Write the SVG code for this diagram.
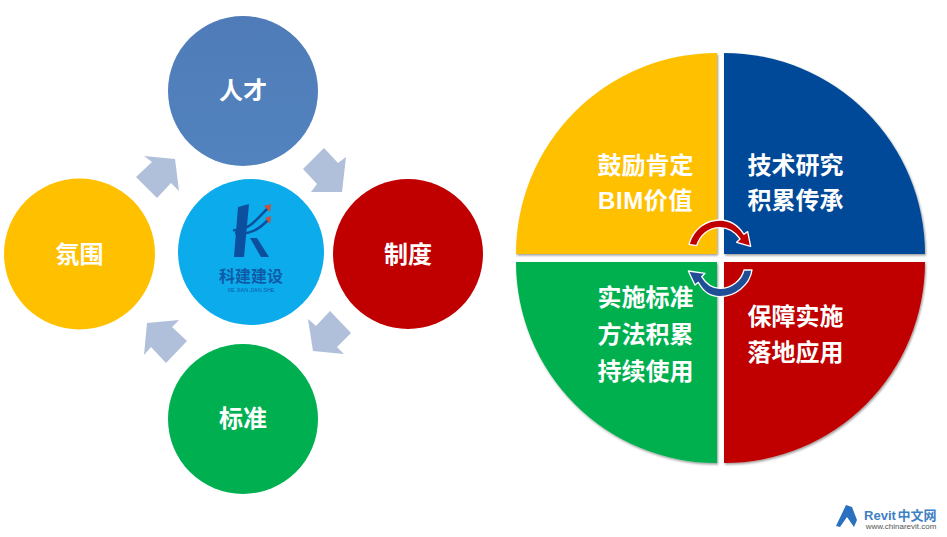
<svg xmlns="http://www.w3.org/2000/svg" width="947" height="537" viewBox="0 0 947 537">
<style>
text{font-family:"Liberation Sans","Noto Sans CJK SC",sans-serif;text-anchor:middle;dominant-baseline:central}
.t{fill:#fff;font-size:24px;font-weight:700}
.a{fill:#b0bfda}
.q{filter:url(#sh)}
</style>
<defs>
<filter id="sh" x="-5%" y="-5%" width="110%" height="110%"><feDropShadow dx="1" dy="1.5" stdDeviation="1.2" flood-color="#000" flood-opacity=".4"/></filter>
<linearGradient id="bl" x1="0" y1="0" x2="0" y2="1"><stop offset="0" stop-color="#4f7cb8"/><stop offset="1" stop-color="#5283be"/></linearGradient>
</defs>
<rect width="947" height="537" fill="#fff"/>
<g id="connectors">
<polygon class="a" points="144,156 175,159 179,191 171,183 157,198 136,177 152,162"/>
<polygon class="a" points="324,148 338,163 346,157 342,192 311,192 317,184 303,169"/>
<polygon class="a" points="330,311 351,333 337,347 344,354 313,351 308,319 316,326"/>
<polygon class="a" points="179,320 172,327 187,341 166,363 151,347 144,355 147,323"/>
</g>
<g id="node-rencai"><circle cx="243" cy="91" r="75" fill="url(#bl)"/><text class="t" x="243" y="90">人才</text></g>
<g id="node-fenwei"><circle cx="79.500" cy="254" r="75.500" fill="#ffc000"/><text class="t" x="79.500" y="254">氛围</text></g>
<g id="node-zhidu"><circle cx="408" cy="254" r="75" fill="#c00000"/><text class="t" x="408" y="254">制度</text></g>
<g id="node-biaozhun"><circle cx="243" cy="419" r="75" fill="#00b050"/><text class="t" x="243" y="418">标准</text></g>
<g id="node-center">
<circle cx="251" cy="252" r="73" fill="#0cabec"/>
<polygon points="238,207 249,204 244,257 234,257" fill="#0b4f9e"/>
<polygon points="250,238 257,238 269,257 261,257" fill="#0b4f9e"/>
<path d="M233,230C248,232 258,218 268,208M235,233C252,236 262,226 268,220" fill="none" stroke="#0b4f9e" stroke-width="2.500"/>
<polygon points="264,206 271,204 270,212" fill="#c8503c"/>
<polygon points="265,218 271,216 270,224" fill="#c8503c"/>
<text x="251" y="276" font-size="16" font-weight="700" fill="#0f5ba8">科建建设</text>
<text x="251" y="290" font-size="5.500" fill="#0f5ba8">XE JIAN JIAN SHE</text>
</g>
<g id="node-q1"><path class="q" d="M717,53A201,201 0 0 0 516,254H717Z" fill="#ffc000"/><text class="t" x="645.500" y="165">鼓励肯定</text><text class="t" x="645.500" y="200" letter-spacing=".6">BIM价值</text></g>
<g id="node-q2"><path class="q" d="M724,53A201,201 0 0 1 925,254H724Z" fill="#004a98"/><text class="t" x="795.500" y="165">技术研究</text><text class="t" x="795.500" y="200">积累传承</text></g>
<g id="node-q3"><path class="q" d="M717,463A201,201 0 0 1 516,262H717Z" fill="#00b050"/><text class="t" x="645.500" y="297">实施标准</text><text class="t" x="645.500" y="334">方法积累</text><text class="t" x="645.500" y="371">持续使用</text></g>
<g id="node-q4"><path class="q" d="M724,463A201,201 0 0 0 925,262H724Z" fill="#c00000"/><text class="t" x="795.500" y="316">保障实施</text><text class="t" x="795.500" y="352">落地应用</text></g>
<g id="cycle" transform="translate(670,205) scale(.3333)" stroke="#fff" stroke-width="4" stroke-linejoin="round">
<path fill="#c00000" d="M57,118C70,70 110,45 150,45C180,45 205,62 222,88L233,80L242,124L200,112L210,102C195,80 172,68 150,68C115,68 90,90 80,122Z"/>
<path fill="#1f4e96" d="M246,195C240,240 195,275 150,275C120,275 100,262 85,232L75,240L55,198L105,205L95,215C110,240 130,250 150,250C185,250 215,225 222,195Z"/>
</g>
<g id="watermark">
<polygon points="846,505 852,507 857,520 854,527 847,517 840,527 836,526" fill="#2a6fc0"/>
<text x="880" y="515" font-size="13" font-weight="700" fill="#3f7fc4">Revit</text>
<text x="917" y="515" font-size="13" font-weight="700" fill="#3f7fc4">中文网</text>
<text x="901" y="526" font-size="8" fill="#555">www.chinarevit.com</text>
</g>
</svg>
